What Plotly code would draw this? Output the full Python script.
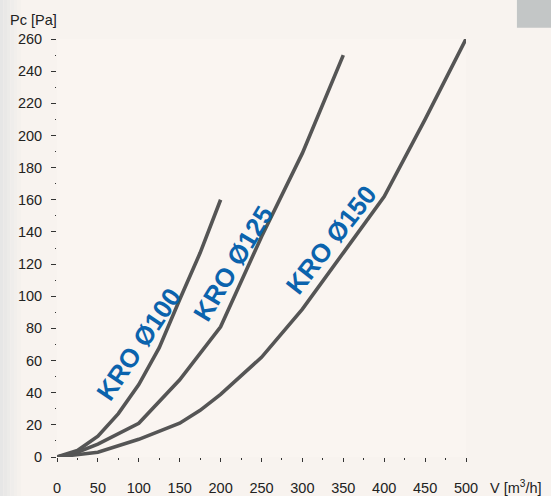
import plotly.graph_objects as go

# Data
v100 = [0, 25, 50, 75, 100, 125, 150, 175, 200]
p100 = [0, 4, 13, 27, 45, 68, 98, 127, 160]

v125 = [0, 25, 50, 100, 150, 200, 250, 300, 350]
p125 = [0, 3, 8, 21, 48, 81, 137, 189, 250]

v150 = [0, 50, 100, 150, 175, 200, 250, 300, 350, 400, 450, 500]
p150 = [0, 3, 11, 21, 29, 39, 62, 92, 127, 162, 210, 260]

labels = ["KRO Ø100", "KRO Ø125", "KRO Ø150"]
label_v = [100, 216, 335]
label_p = [70.5, 120.5, 135]
label_angle = [-56, -59, -52]

x_ticks = [0, 50, 100, 150, 200, 250, 300, 350, 400, 450, 500]
y_ticks = list(range(0, 261, 20))

line_col = "#555555"
blue = "#0b63ad"
font_family = "Liberation Sans, Arial, sans-serif"

fig = go.Figure()
for v, p in [(v100, p100), (v125, p125), (v150, p150)]:
    fig.add_trace(go.Scatter(x=v, y=p, mode="lines",
                             line=dict(color=line_col, width=3.6),
                             cliponaxis=False, showlegend=False,
                             hoverinfo="skip"))

for t, xv, yv, a in zip(labels, label_v, label_p, label_angle):
    fig.add_annotation(x=xv, y=yv, xref="x", yref="y", text="<b>" + t + "</b>",
                       textangle=a, showarrow=False,
                       font=dict(family=font_family, size=26, color=blue),
                       xanchor="center", yanchor="middle")

# axis titles
fig.add_annotation(xref="paper", yref="paper", x=-0.119, y=1.046,
                   text="Pc [Pa]", showarrow=False, xanchor="left",
                   yanchor="middle",
                   font=dict(family=font_family, size=14.5, color="#222222"))
fig.add_annotation(xref="paper", yref="paper", x=1.055, y=-0.072,
                   text="V [m<sup>3</sup>/h]", showarrow=False,
                   xanchor="left", yanchor="middle",
                   font=dict(family=font_family, size=14.5, color="#222222"))

# background decorations: soft grey strip on the left (gradient)
strip_cols = ["#e6e6e6", "#e9e8e7", "#ecebe9", "#efedeb", "#f2efec", "#f5f1ed"]
px_w = 409.0
for i, c in enumerate(strip_cols):
    x0 = (0 + i * 3.5 - 57) / px_w
    x1 = (0 + (i + 1) * 3.5 - 57) / px_w
    fig.add_shape(type="rect", xref="paper", yref="paper",
                  x0=x0, x1=x1, y0=-0.1, y1=1.1,
                  fillcolor=c, line_width=0, layer="below")
# small grey box at top right
fig.add_shape(type="rect", xref="paper", yref="paper",
              x0=1.1245, x1=1.21, y0=1.027, y1=1.1,
              fillcolor="#c3c6c6", line_width=0, layer="below")

fig.update_layout(
    width=551, height=496,
    margin=dict(l=57, r=85, t=39, b=39, autoexpand=False),
    paper_bgcolor="#f8f3ef",
    plot_bgcolor="#faf5f1",
    font=dict(family=font_family, size=14, color="#222222"),
    showlegend=False,
)
fig.update_xaxes(range=[0, 500], tickvals=x_ticks,
                 ticktext=[str(t) for t in x_ticks],
                 showgrid=False, zeroline=False, showline=False,
                 automargin=False,
                 ticks="outside", ticklen=4, tickwidth=1.3, tickcolor="#333333",
                 ticklabelstandoff=14,
                 minor=dict(dtick=25, ticks="outside", ticklen=2,
                            tickwidth=1, tickcolor="#333333", showgrid=False),
                 tickfont=dict(size=14.5, color="#222222"))
fig.update_yaxes(range=[0, 260], tickvals=y_ticks,
                 ticktext=[str(t) for t in y_ticks],
                 showgrid=False, zeroline=False, showline=False,
                 automargin=False,
                 ticks="outside", ticklen=5, tickwidth=1.3, tickcolor="#333333",
                 ticklabelstandoff=6,
                 minor=dict(dtick=10, ticks="outside", ticklen=1.5,
                            tickwidth=1, tickcolor="#333333", showgrid=False),
                 tickfont=dict(size=14.5, color="#222222"))

fig.write_html("out.html",
               config={"displayModeBar": False},
               post_script="document.body.style.margin='0';"
                           "document.body.style.overflow='hidden';")
